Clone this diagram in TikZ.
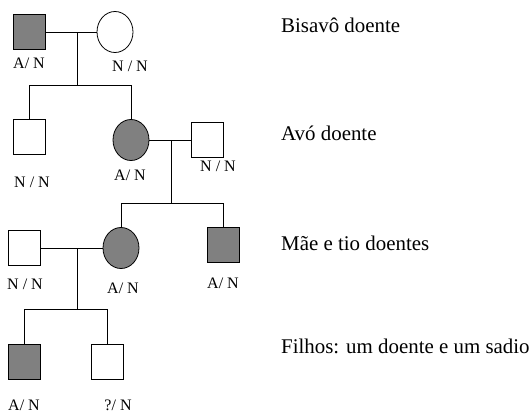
\documentclass[tikz,border=0pt]{standalone}
\usepackage{fontspec}
\setmainfont{Liberation Serif}
\usetikzlibrary{shapes.geometric}
\begin{document}
\begin{tikzpicture}[x=1pt,y=-1pt,
  male/.style={draw, rectangle, minimum width=32pt, minimum height=35pt, inner sep=0pt, line width=0.8pt},
  female/.style={draw, ellipse, minimum width=36pt, minimum height=41pt, inner sep=0pt, line width=0.8pt},
  aff/.style={fill=black!50},
  geno/.style={font=\fontsize{16}{18}\selectfont, inner sep=0pt, anchor=base},
  capt/.style={font=\fontsize{20.9}{24}\selectfont, inner sep=0pt, anchor=base west},
  link/.style={line width=0.8pt}]
\useasboundingbox (0,0) rectangle (529,415);
% generation I
\node[male,aff] (bisavo) at (29,32) {};
\node[female] (bisavoa) at (115,32) {};
\coordinate (m1) at (77,32);
\coordinate (s1) at (77,85);
% generation II
\node[male] (tioavo) at (29,137) {};
\node[female,aff] (avo) at (131,140) {};
\node[male] (avoh) at (207,140) {};
\coordinate (m2) at (171,140);
\coordinate (s2) at (171,203);
% generation III
\node[male] (pai) at (24,248) {};
\node[female,aff] (mae) at (121,248) {};
\node[male,aff] (tio) at (223,245) {};
\coordinate (m3) at (77,248);
\coordinate (s3) at (77,309);
% generation IV
\node[male,aff] (f1) at (24,362) {};
\node[male] (f2) at (107,362) {};
% connectors
\draw[link] (bisavo) -- (bisavoa);
\draw[link] (m1) -- (s1);
\draw[link] (tioavo.north) -- (tioavo.north |- s1) -- (avo.north |- s1) -- (avo.north);
\draw[link] (avo) -- (avoh);
\draw[link] (m2) -- (s2);
\draw[link] (mae.north) -- (mae.north |- s2) -- (tio.north |- s2) -- (tio.north);
\draw[link] (pai) -- (mae);
\draw[link] (m3) -- (s3);
\draw[link] (f1.north) -- (f1.north |- s3) -- (f2.north |- s3) -- (f2.north);
% genotypes
\node[geno] (g1) at (29,68) {A/ N};
\node[geno] (g2) at (130,71) {N / N};
\node[geno] (g3) at (32,187) {N / N};
\node[geno] (g4) at (130,180) {A/ N};
\node[geno] (g5) at (218,171) {N / N};
\node[geno] (g6) at (25,289) {N / N};
\node[geno] (g7) at (123,293) {A/ N};
\node[geno] (g8) at (223,288) {A/ N};
\node[geno] (g9) at (24,410) {A/ N};
\node[geno] (g10) at (118,410) {?/ N};
% captions
\node[capt] (c1) at (281,32) {Bisavô doente};
\node[capt] (c2) at (281,140) {Avó doente};
\node[capt] (c3) at (281,250) {Mãe e tio doentes};
\node[capt] (c4) at (281,353) {Filhos: um doente e um sadio};
\end{tikzpicture}
\end{document}
